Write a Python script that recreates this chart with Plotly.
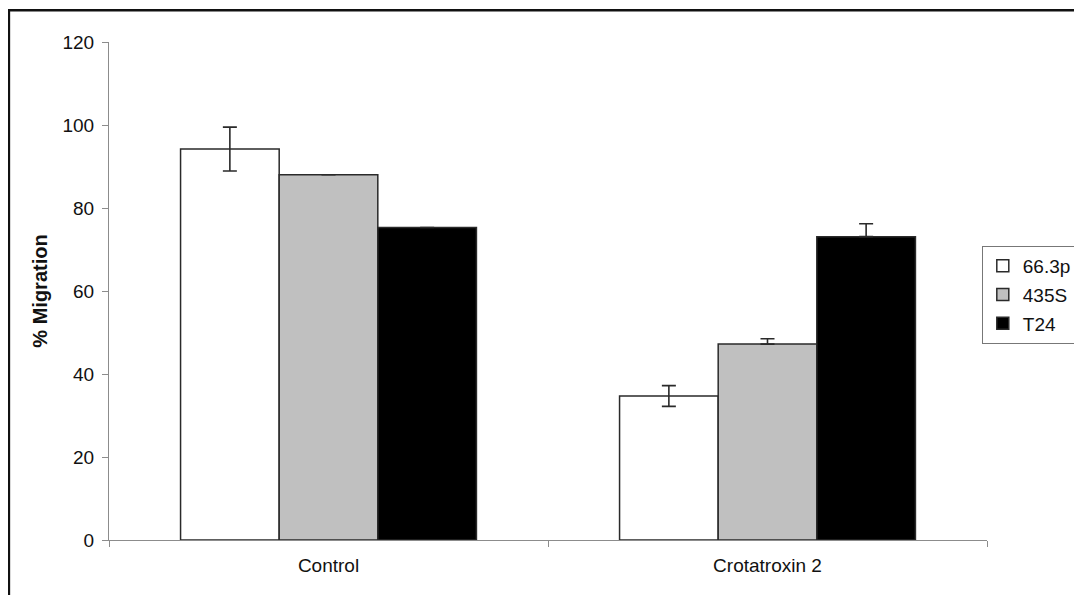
import plotly.graph_objects as go

# groups along the x axis
categories = ["Control", "Crotatroxin 2"]

# % migration per cell line
series_names = ["66.3p", "435S", "T24"]
values_663p = [94.2, 34.7]
values_435s = [88.0, 47.2]
values_t24 = [75.3, 73.1]

# error bars (upper / lower)
err_663p_plus = [5.3, 2.5]
err_663p_minus = [5.3, 2.5]
err_435s_plus = [0, 1.3]
err_435s_minus = [0, 0]
err_t24_plus = [0, 3.1]
err_t24_minus = [0, 0]

fills = ["#ffffff", "#c0c0c0", "#000000"]

fig = go.Figure()
data = [
    (values_663p, err_663p_plus, err_663p_minus),
    (values_435s, err_435s_plus, err_435s_minus),
    (values_t24, err_t24_plus, err_t24_minus),
]
for name, color, (vals, ep, em) in zip(series_names, fills, data):
    fig.add_trace(go.Bar(
        x=categories, y=vals, name=name, legendgroup=name,
        marker=dict(color=color, line=dict(color="#2a2a2a", width=1.5)),
        error_y=dict(type="data", array=ep, arrayminus=em, symmetric=False,
                     color="#2a2a2a", thickness=1.6, width=7),
    ))

# page frame (top and left edges of the scanned figure)
fig.add_shape(type="rect", xref="paper", yref="paper",
              x0=-0.114, x1=1.3, y0=-0.3, y1=1.064,
              line=dict(color="#111111", width=2.5), layer="below")

fig.update_layout(
    width=1082, height=595,
    barmode="group", bargap=0.326, bargroupgap=0,
    plot_bgcolor="white", paper_bgcolor="white",
    font=dict(family="Liberation Sans, Arial, sans-serif", size=19, color="#111111"),
    margin=dict(l=101, r=103, t=34, b=63, autoexpand=False),
    showlegend=True,
    legend=dict(xref="container", yref="container", x=0.9, y=0.6,
                xanchor="left", yanchor="top",
                bordercolor="#777777", borderwidth=1, bgcolor="white",
                font=dict(size=19), itemwidth=30, tracegroupgap=1),
    xaxis=dict(showline=True, linecolor="#8c8c8c", linewidth=1.2,
               ticks="outside", ticklen=6, tickcolor="#8c8c8c",
               tickson="boundaries", showgrid=False, range=[-0.5, 1.5],
               ticklabelstandoff=8),
    yaxis=dict(range=[0, 120], dtick=20, showline=True, linecolor="#8c8c8c",
               linewidth=1.2, ticks="outside", ticklen=6, tickcolor="#8c8c8c",
               showgrid=False, zeroline=False, ticklabelstandoff=4,
               title=dict(text="<b>% Migration</b>", standoff=9,
                          font=dict(size=20))),
)

fig.write_html("out.html")
